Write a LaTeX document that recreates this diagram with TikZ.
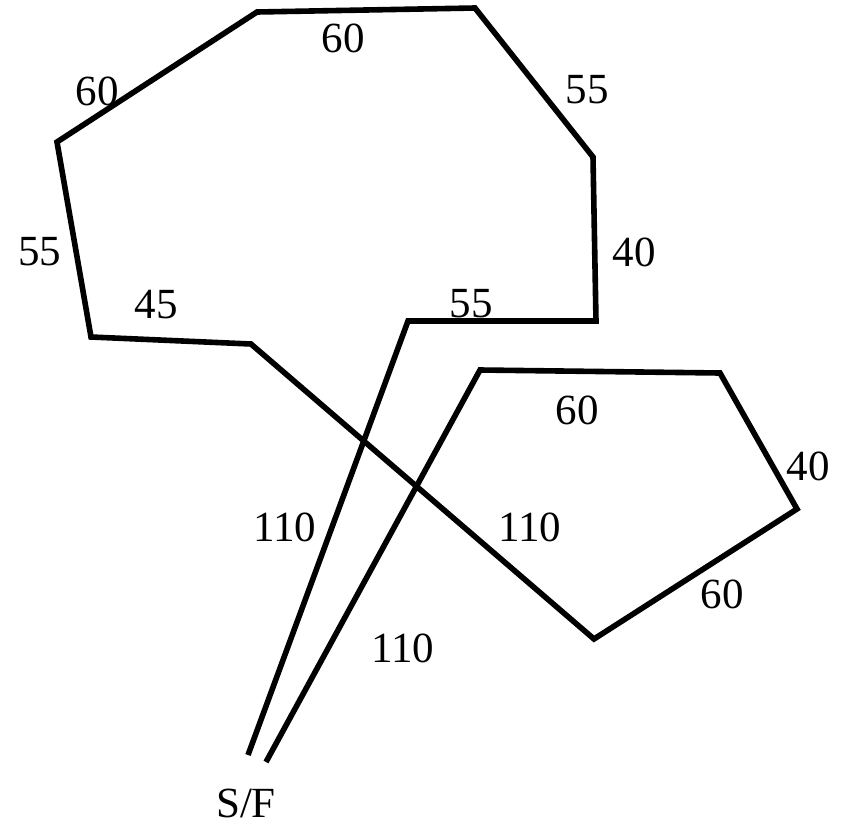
\documentclass[tikz,border=0pt]{standalone}
\usepackage{fontspec}
\setmainfont{Liberation Serif}
\usetikzlibrary{positioning}

\begin{document}
\begin{tikzpicture}[
  x=1pt, y=-1pt,
  vei/.style={line width=5.6pt, line join=miter},
  tall/.style={font=\fontsize{43}{49}\selectfont, inner sep=0pt}
]
\useasboundingbox (0,0) rectangle (844,828);
% route corners
\coordinate (start) at (248,755);
\coordinate (a) at (408,321);
\coordinate (b) at (596,321);
\coordinate (c) at (593,157);
\coordinate (d) at (475,8);
\coordinate (e) at (257,12);
\coordinate (f) at (57,142);
\coordinate (g) at (91,337);
\coordinate (h) at (251,344);
\coordinate (i) at (594,639);
\coordinate (j) at (797,509);
\coordinate (k) at (720,373);
\coordinate (l) at (480,370);
\coordinate (slutt) at (266,762);
\draw[vei] (start) -- (a) -- (b) -- (c) -- (d) -- (e) -- (f) -- (g) -- (h)
  -- (i) -- (j) -- (k) -- (l) -- (slutt);
% distances
\node[tall] (de) at (343,38) {60};
\node[tall] (ef) at (97,91) {60};
\node[tall] (cd) at (587,90) {55};
\node[tall] (bc) at (634,252) {40};
\node[tall] (fg) at (40,252) {55};
\node[tall] (gh) at (156,305) {45};
\node[tall] (ab) at (471,304) {55};
\node[tall] (kl) at (577,410) {60};
\node[tall] (jk) at (808,466) {40};
\node[tall] (sa) at (285,527) {110};
\node[tall] (hi) at (530,527) {110};
\node[tall] (ij) at (722,594) {60};
\node[tall] (ls) at (403,648) {110};
\node[tall] (sf) at (246,803) {S/F};
\end{tikzpicture}
\end{document}
